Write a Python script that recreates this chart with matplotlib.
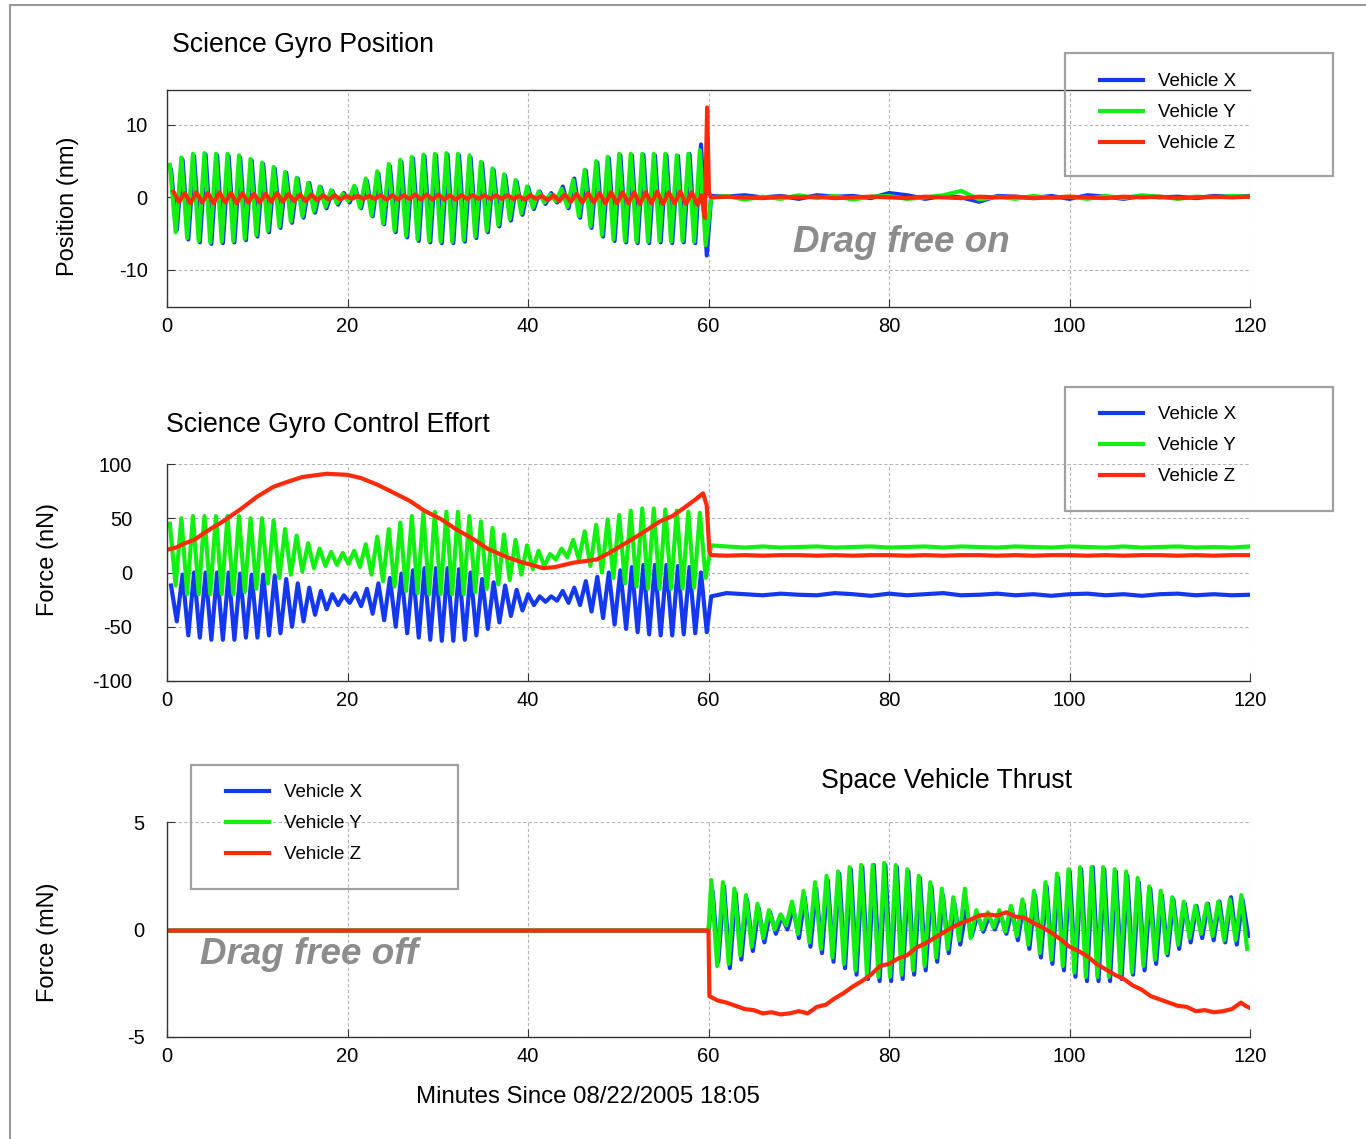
import numpy as np
import matplotlib.pyplot as plt
from matplotlib.lines import Line2D
from matplotlib.patches import Rectangle

plt.rcParams['font.family'] = ['Liberation Sans', 'DejaVu Sans']
plt.rcParams['axes.unicode_minus'] = False

W, H = 1366, 1139

# ---------------- data ----------------
cycles = 47  # oscillation cycles in each 60 minute block

# Science Gyro Position (nm): peak / trough of each cycle, 0-60 min
pos_y_hi = [4.5, 5.5, 6.0, 6.1, 6.0, 6.0, 5.8, 5.3, 4.8, 4.2,
            3.5, 2.7, 2.0, 1.5, 1.0, 0.5, 1.6, 2.6, 3.6, 4.6,
            5.2, 5.6, 5.9, 6.0, 6.1, 6.0, 5.8, 4.9, 4.0, 3.2,
            2.4, 1.5, 0.8, 0.4, 1.2, 2.4, 3.8, 5.0, 5.6, 6.0,
            6.0, 6.0, 6.0, 6.0, 5.8, 6.0, 6.5]
pos_y_lo = [-4.8, -5.6, -6.0, -6.2, -6.1, -6.0, -5.7, -5.2, -4.6, -4.0,
            -3.3, -2.6, -1.9, -1.3, -0.8, -0.5, -1.4, -2.5, -3.6, -4.6,
            -5.3, -5.8, -6.0, -6.1, -6.1, -5.9, -5.4, -4.6, -3.8, -3.0,
            -2.2, -1.4, -0.7, -0.5, -1.3, -2.6, -4.0, -5.2, -5.8, -6.0,
            -6.1, -6.1, -6.0, -6.1, -6.0, -6.1, -6.6]
pos_x_hi = [3.8, 5.2, 5.7, 5.9, 5.8, 5.7, 5.5, 5.1, 4.6, 4.0,
            3.4, 2.6, 2.0, 1.4, 0.9, 0.6, 1.3, 2.3, 3.3, 4.3,
            4.9, 5.4, 5.7, 5.8, 5.9, 5.8, 5.5, 4.7, 3.8, 3.0,
            2.2, 1.4, 0.8, 0.6, 1.5, 2.6, 3.7, 4.8, 5.4, 5.8,
            5.8, 5.9, 5.8, 5.8, 5.7, 6.0, 7.3]
pos_x_lo = [-4.5, -5.8, -6.2, -6.4, -6.3, -6.2, -5.9, -5.4, -4.8, -4.2,
            -3.5, -2.8, -2.1, -1.5, -1.0, -0.7, -1.5, -2.6, -3.7, -4.8,
            -5.5, -6.0, -6.2, -6.3, -6.3, -6.1, -5.6, -4.8, -4.0, -3.2,
            -2.4, -1.6, -0.9, -0.7, -1.5, -2.8, -4.2, -5.4, -6.0, -6.2,
            -6.3, -6.3, -6.2, -6.3, -6.2, -6.3, -8.0]
pos_z_hi = [0.8, 0.6, 0.7, 0.6, 0.7, 0.6, 0.6, 0.5, 0.5, 0.6,
            0.5, 0.4, 0.4, 0.3, 0.3, 0.2, 0.2, 0.2, 0.3, 0.3,
            0.3, 0.4, 0.4, 0.4, 0.3, 0.3, 0.3, 0.3, 0.3, 0.3,
            0.2, 0.3, 0.2, 0.3, 0.4, 0.5, 0.6, 0.6, 0.7, 0.7,
            0.7, 0.7, 0.8, 0.7, 0.8, 0.7]
pos_z_lo = [-0.6, -0.8, -0.7, -0.8, -0.7, -0.8, -0.7, -0.7, -0.6, -0.6,
            -0.5, -0.5, -0.4, -0.3, -0.3, -0.2, -0.2, -0.2, -0.3, -0.3,
            -0.2, -0.3, -0.3, -0.3, -0.3, -0.2, -0.2, -0.2, -0.2, -0.2,
            -0.3, -0.2, -0.4, -0.5, -0.6, -0.7, -0.7, -0.8, -0.8, -0.8,
            -0.9, -0.8, -0.9, -0.8, -0.9, -1.0]
pos_z_spike_t = [59.2, 59.6, 59.85, 60.05]
pos_z_spike = [0.3, -2.8, 12.4, 0.6]

# drag free on: 60.3 min, then every 2 min to 120
tail_t = np.r_[60.3, np.arange(62, 121, 2)]
pos_x_tail = [0.2, 0.1, 0.3, 0.0, 0.2, -0.2, 0.3, 0.1, 0.2, -0.1, 0.6,
              0.3, -0.2, 0.2, 0.0, -0.6, 0.2, 0.1, -0.1, 0.2, -0.2,
              0.3, 0.1, -0.2, 0.2, 0.0, 0.1, -0.1, 0.2, 0.1, 0.2]
pos_y_tail = [0.0, 0.2, -0.3, 0.1, -0.2, 0.3, -0.1, 0.2, -0.3, 0.1, 0.2,
              -0.2, 0.0, 0.3, 0.9, -0.3, 0.1, -0.2, 0.2, -0.1, 0.1,
              -0.2, 0.2, -0.1, 0.3, 0.1, -0.2, 0.1, 0.0, 0.2, 0.1]
pos_z_tail = [0.0, 0.1, 0.0, -0.1, 0.1, 0.0, 0.1, -0.1, 0.0, 0.1, 0.0,
              -0.1, 0.1, 0.0, -0.1, 0.1, 0.0, 0.1, -0.1, 0.0, 0.1,
              0.0, -0.1, 0.1, 0.0, 0.1, -0.1, 0.0, 0.1, 0.0, 0.1]

# Science Gyro Control Effort (nN)
eff_y_hi = [45, 50, 52, 52, 52, 52, 52, 50, 50, 48,
            40, 34, 27, 22, 19, 18, 20, 26, 33, 40,
            46, 52, 55, 56, 56, 56, 52, 47, 41, 35,
            30, 25, 20, 17, 22, 30, 38, 44, 49, 53,
            57, 59, 59, 58, 57, 56, 55]
eff_y_lo = [-12, -20, -20, -20, -20, -20, -18, -15, -10, -5,
            -2, 1, 4, 6, 7, 8, 5, -2, -8, -13,
            -17, -19, -20, -20, -20, -20, -18, -15, -11, -7,
            -2, 3, 6, 12, 14, 12, 6, 0, -5, -10,
            -13, -15, -15, -15, -15, -14, -5]
eff_x_hi = [-12, -2, 0, 0, 0, 0, -1, -2, -2, -3,
            -6, -10, -14, -17, -20, -21, -19, -15, -10, -5,
            -1, 2, 4, 4, 4, 3, 0, -6, -9, -12,
            -16, -20, -22, -22, -17, -14, -8, -4, 0, 2,
            5, 7, 7, 7, 6, 5, 0]
eff_x_lo = [-45, -58, -60, -62, -62, -62, -60, -60, -58, -56,
            -50, -45, -39, -34, -30, -28, -31, -38, -44, -50,
            -56, -60, -62, -63, -63, -62, -58, -52, -46, -40,
            -35, -30, -27, -26, -28, -30, -36, -42, -48, -52,
            -55, -57, -58, -58, -57, -56, -55]
eff_z_t = [0, 1, 2, 3, 4.4, 6, 8.1, 10, 11.8, 13.5, 15, 17.7, 20, 21.5, 23.3,
           25, 26.9, 28.5, 30.4, 32, 33.9, 35.5, 37.7, 39.5, 41.7, 43, 45,
           47.6, 49, 50.2, 52.4, 54.6, 56, 57.2, 58.5, 59.4, 59.8, 60.1]
eff_z = [21, 23, 27, 30, 38, 46, 58, 70, 79, 84, 88, 91, 90, 87, 81,
         74, 66, 57, 49, 40, 31, 22, 14, 9, 4, 5, 9,
         12, 18, 24, 35, 47, 52, 59, 67, 73, 62, 19]
eff_x_tail = [-22, -19, -20, -21, -19.5, -20.5, -21, -19, -20, -21.5, -19.5,
              -21, -20, -19, -21, -20.5, -19.5, -21, -20, -21.5, -20,
              -19.5, -21, -20, -21.5, -20, -19.5, -21, -20, -21, -20.5]
eff_y_tail = [25, 24, 23, 24, 23, 23.5, 24, 23, 23.5, 24, 23,
              23.5, 24, 23, 24, 23.5, 23, 24, 23.5, 23, 24,
              23.5, 23, 24, 23, 23.5, 24, 23, 23.5, 23, 24]
eff_z_tail = [16, 15.5, 16, 15.5, 16, 16, 15.5, 16, 15.5, 16, 16,
              15.5, 16, 15.5, 16, 16, 15.5, 16, 15.5, 16, 16,
              15.5, 16, 15.5, 16, 16, 15.5, 16, 15.5, 16, 16]

# Space Vehicle Thrust (mN): flat until 60 min, then per cycle 60-120
thr_flat_t = [0, 60]
thr_flat = [-0.05, -0.05]
thr_y_hi = [2.3, 2.2, 1.9, 1.6, 1.2, 0.9, 0.7, 1.3, 1.8, 2.2,
            2.5, 2.7, 2.9, 3.0, 3.0, 3.1, 3.0, 2.8, 2.5, 2.2,
            1.9, 1.5, 1.9, 0.9, 0.8, 0.9, 1.1, 1.4, 1.8, 2.2,
            2.6, 2.8, 2.9, 2.9, 2.9, 2.8, 2.7, 2.4, 2.0, 1.8,
            1.5, 1.3, 1.1, 1.2, 1.3, 1.4, 1.6]
thr_y_lo = [-1.7, -1.6, -1.2, -0.8, -0.4, 0.0, 0.2, -0.2, -0.6, -0.9,
            -1.3, -1.6, -1.9, -2.1, -2.2, -2.2, -2.1, -1.9, -1.7, -1.3,
            -0.9, -0.5, -0.4, 0.0, 0.1, -0.1, -0.3, -0.7, -1.1, -1.4,
            -1.7, -2.0, -2.2, -2.2, -2.2, -2.1, -2.0, -1.7, -1.4, -1.1,
            -0.7, -0.4, -0.2, -0.3, -0.5, -0.5, -0.9]
thr_x_hi = [1.8, 2.0, 1.7, 1.4, 1.0, 0.8, 0.6, 1.0, 1.5, 1.9,
            2.3, 2.6, 2.8, 2.9, 3.0, 3.0, 2.9, 2.7, 2.4, 2.0,
            1.6, 1.2, 0.9, 0.7, 0.6, 0.7, 0.9, 1.2, 1.6, 2.0,
            2.4, 2.7, 2.8, 2.9, 2.8, 2.7, 2.5, 2.2, 1.9, 1.6,
            1.4, 1.2, 1.1, 1.2, 1.3, 1.5, 1.4]
thr_x_lo = [-1.5, -1.8, -1.4, -1.0, -0.6, -0.2, 0.0, -0.4, -0.8, -1.1,
            -1.5, -1.8, -2.1, -2.3, -2.4, -2.4, -2.3, -2.1, -1.9, -1.5,
            -1.1, -0.7, -0.3, -0.1, 0.0, -0.2, -0.5, -0.9, -1.3, -1.6,
            -1.9, -2.2, -2.4, -2.4, -2.4, -2.3, -2.1, -1.9, -1.6, -1.2,
            -0.9, -0.6, -0.4, -0.5, -0.6, -0.7, -0.3]
thr_z_t = np.r_[60, 60.1, np.arange(61, 120), 119.5, 120]
thr_z = [-0.05, -3.1,
         -3.3, -3.4, -3.55, -3.7, -3.75, -3.9, -3.85, -3.95, -3.9, -3.8,
         -3.9, -3.6, -3.5, -3.2, -2.95, -2.65, -2.4, -2.1, -1.7, -1.6,
         -1.35, -1.2, -0.85, -0.65, -0.4, -0.15, 0.1, 0.3, 0.45, 0.65,
         0.7, 0.65, 0.8, 0.6, 0.55, 0.3, 0.1, -0.15, -0.45, -0.8,
         -1.0, -1.25, -1.6, -1.85, -2.1, -2.3, -2.6, -2.8, -3.1, -3.25,
         -3.4, -3.55, -3.6, -3.8, -3.75, -3.85, -3.8, -3.7, -3.4,
         -3.55, -3.65]

labels = ['Vehicle X', 'Vehicle Y', 'Vehicle Z']
colors = ['#1438f0', '#12f012', '#ff2a0a']
xticks = [0, 20, 40, 60, 80, 100, 120]


def wave(t0, hi, lo, lag=0.0):
    # one peak and one trough per cycle
    per = 60.0 / cycles
    k = np.arange(len(hi))
    t = np.column_stack([t0 + (k + 0.25 + lag) * per,
                         t0 + (k + 0.75 + lag) * per]).ravel()
    v = np.column_stack([hi, lo]).ravel()
    return t, v


def fx(x):
    return x / W


def fy(y):
    return 1 - y / H


def make_axes(top, bottom, ylim, yticks, ypad, top_spine=False):
    ax = fig.add_axes([fx(167), fy(bottom), fx(1250) - fx(167),
                       fy(top) - fy(bottom)])
    ax.set_xlim(0, 120)
    ax.set_ylim(*ylim)
    ax.set_xticks(xticks)
    ax.set_yticks(yticks)
    ax.grid(True, color='#b4b4b4', linestyle=(0, (3, 2)), linewidth=0.8)
    ax.set_axisbelow(True)
    ax.spines['right'].set_visible(False)
    ax.spines['top'].set_visible(top_spine)
    for s in ['left', 'bottom', 'top']:
        ax.spines[s].set_color('#333333')
        ax.spines[s].set_linewidth(1.0)
    ax.tick_params(direction='in', length=6, labelsize=14.5, color='#333333')
    ax.tick_params(axis='x', pad=7)
    ax.tick_params(axis='y', pad=ypad)
    ax.patch.set_alpha(0)
    return ax


def legend_box(x0, y0, x1, y1, hx, hy, handles):
    fig.add_artist(Rectangle((fx(x0), fy(y1)), fx(x1) - fx(x0), fy(y0) - fy(y1),
                             transform=fig.transFigure, fill=False,
                             edgecolor='#a0a0a0', linewidth=1.6))
    fig.legend(handles, labels, loc='upper left',
               bbox_to_anchor=(fx(hx), fy(hy)), bbox_transform=fig.transFigure,
               frameon=False, fontsize=13.5, handlelength=2.3,
               handletextpad=0.8, labelspacing=0.74, borderpad=0,
               borderaxespad=0)


fig = plt.figure(figsize=(W / 100, H / 100), dpi=100)
lw = 3.0

# outer frame
fig.add_artist(Line2D([fx(10), fx(10)], [0, fy(5)], transform=fig.transFigure,
                      color='#9a9a9a', linewidth=1.5))
fig.add_artist(Line2D([fx(10), 1], [fy(5), fy(5)], transform=fig.transFigure,
                      color='#9a9a9a', linewidth=1.5))

# ---- panel 1: Science Gyro Position ----
ax1 = make_axes(90, 307, (-15.1, 14.8), [-10, 0, 10], 14, top_spine=True)
t, v = wave(0, pos_x_hi, pos_x_lo, lag=0.1)
hx, = ax1.plot(np.r_[t, tail_t], np.r_[v, pos_x_tail], color=colors[0], lw=lw)
t, v = wave(0, pos_y_hi, pos_y_lo)
hy, = ax1.plot(np.r_[t, tail_t], np.r_[v, pos_y_tail], color=colors[1], lw=lw)
t, v = wave(0, pos_z_hi, pos_z_lo, lag=0.3)
hz, = ax1.plot(np.r_[t, pos_z_spike_t, tail_t], np.r_[v, pos_z_spike, pos_z_tail],
               color=colors[2], lw=lw)
handles = [hx, hy, hz]
fig.text(fx(172), fy(45), 'Science Gyro Position', fontsize=19.2, va='center')
fig.text(fx(68), fy(206), 'Position (nm)', fontsize=17, rotation=90,
         va='center', ha='center')
fig.text(fx(793), fy(242), 'Drag free on', fontsize=26.5, fontweight='bold',
         fontstyle='italic', color='#8c8c8c', va='center')
legend_box(1065, 53, 1333, 176, 1100, 73, handles)

# ---- panel 2: Science Gyro Control Effort ----
ax2 = make_axes(464, 681, (-100, 100), [-100, -50, 0, 50, 100], 25)
t, v = wave(0, eff_x_hi, eff_x_lo, lag=0.1)
ax2.plot(np.r_[t, tail_t], np.r_[v, eff_x_tail], color=colors[0], lw=lw)
t, v = wave(0, eff_y_hi, eff_y_lo)
ax2.plot(np.r_[t, tail_t], np.r_[v, eff_y_tail], color=colors[1], lw=lw)
ax2.plot(np.r_[eff_z_t, tail_t], np.r_[eff_z, eff_z_tail], color=colors[2], lw=lw)
fig.text(fx(166), fy(425), 'Science Gyro Control Effort', fontsize=19.2,
         va='center')
fig.text(fx(48), fy(560), 'Force (nN)', fontsize=17, rotation=90,
         va='center', ha='center')
legend_box(1065, 387, 1333, 511, 1100, 406, handles)

# ---- panel 3: Space Vehicle Thrust ----
ax3 = make_axes(822, 1037, (-5, 5), [-5, 0, 5], 16)
t, v = wave(60, thr_x_hi, thr_x_lo, lag=0.1)
ax3.plot(np.r_[thr_flat_t, t], np.r_[thr_flat, v], color=colors[0], lw=lw)
t, v = wave(60, thr_y_hi, thr_y_lo)
ax3.plot(np.r_[thr_flat_t, t], np.r_[thr_flat, v], color=colors[1], lw=lw)
ax3.plot(np.r_[thr_flat_t[:1], thr_z_t], np.r_[thr_flat[:1], thr_z],
         color=colors[2], lw=lw)
fig.text(fx(946), fy(781), 'Space Vehicle Thrust', fontsize=19.2,
         va='center', ha='center')
fig.text(fx(48), fy(942), 'Force (mN)', fontsize=17, rotation=90,
         va='center', ha='center')
fig.text(fx(200), fy(955), 'Drag free off', fontsize=26.5, fontweight='bold',
         fontstyle='italic', color='#8c8c8c', va='center')
fig.text(fx(588), fy(1097), 'Minutes Since 08/22/2005 18:05', fontsize=17.3,
         va='center', ha='center')
legend_box(191, 765, 458, 889, 226, 784, handles)

fig.savefig('out.png', dpi=100)
